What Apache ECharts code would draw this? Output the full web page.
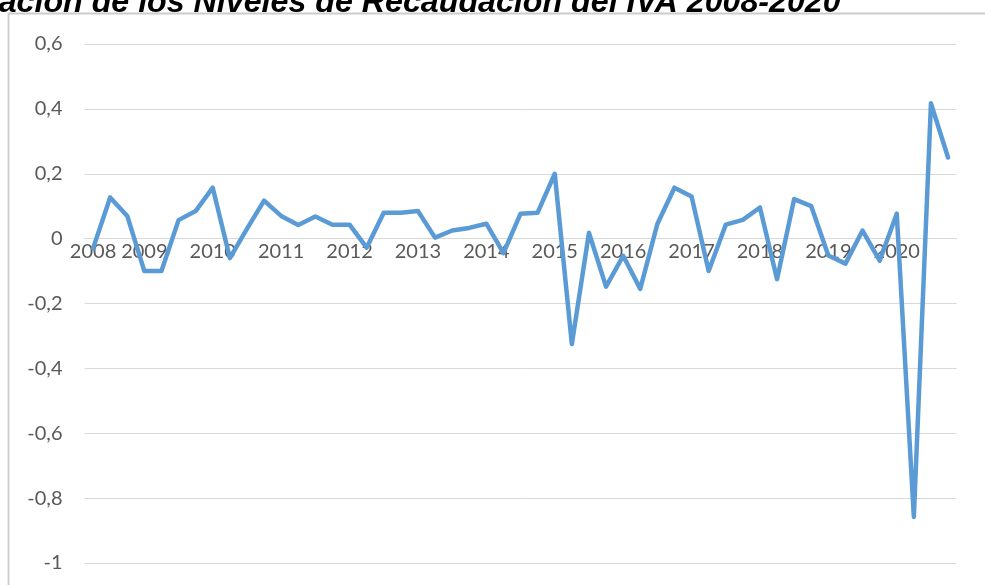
<!DOCTYPE html>
<html>
<head>
<meta charset="utf-8">
<script src="https://cdn.jsdelivr.net/npm/echarts@6/dist/echarts.min.js"></script>
<style>
html,body{margin:0;padding:0;background:#fff;}
#chart{width:985px;height:585px;}
</style>
</head>
<body>
<div id="chart"></div>
<script>
const titleText = 'Variación de los Niveles de Recaudación del IVA 2008-2020';
const years = [2008,2009,2010,2011,2012,2013,2014,2015,2016,2017,2018,2019,2020];
const quarters = ['T1','T2','T3','T4'];
const categories = [];
years.forEach(y => quarters.forEach(q => categories.push(y + '-' + q)));
categories.length = 51;
const tickLabels = ['2008','2009','2010','2011','2012','2013','2014','2015','2016','2017','2018','2019','2020'];
const tickIndex = [0,3,7,11,15,19,23,27,31,35,39,43,47];
const values = [
  -0.03, 0.127, 0.07, -0.1, -0.1, 0.057, 0.085, 0.157, -0.06, 0.03,
  0.117, 0.07, 0.042, 0.068, 0.043, 0.043, -0.028, 0.08, 0.08, 0.085,
  0.003, 0.025, 0.033, 0.046, -0.045, 0.077, 0.08, 0.2, -0.325, 0.018,
  -0.148, -0.053, -0.155, 0.045, 0.157, 0.13, -0.1, 0.043, 0.058, 0.096,
  -0.125, 0.122, 0.1, -0.052, -0.077, 0.025, -0.068, 0.077, -0.858, 0.417,
  0.25
];
const yTicks = {min: -1, max: 0.6, interval: 0.2};

const gridTop = 44, gridBottom = 22, H = 585;
const plotH = H - gridTop - gridBottom;
const zeroOffset = -plotH * (0 - yTicks.min) / (yTicks.max - yTicks.min);

const chart = echarts.init(document.getElementById('chart'), null, {renderer: 'canvas'});
const labelFont = 'Lato, "Open Sans", sans-serif';
chart.setOption({
  animation: false,
  backgroundColor: '#ffffff',
  graphic: [
    {type: 'rect', shape: {x: 8.5, y: 13.5, width: 1000, height: 600}, style: {fill: 'none', stroke: '#cccccc', lineWidth: 1.8}, z: -1},
    {type: 'text', left: -61, top: -13, style: {text: titleText, font: 'italic bold 32.2px "Liberation Sans", Arial, sans-serif', fill: '#000000'}}
  ],
  grid: {left: 84.5, right: 28.4, top: gridTop, bottom: gridBottom, containLabel: false},
  xAxis: {
    type: 'category',
    data: categories,
    boundaryGap: true,
    offset: zeroOffset,
    axisLine: {onZero: false, lineStyle: {color: '#d9d9d9', width: 1}},
    axisTick: {show: false},
    splitLine: {show: false},
    axisLabel: {
      interval: function (i) { return tickIndex.indexOf(i) >= 0; },
      formatter: function (v, i) { const k = tickIndex.indexOf(i); return k >= 0 ? tickLabels[k] : ''; },
      color: '#595959', fontSize: 20, fontFamily: labelFont, margin: 3, hideOverlap: false
    }
  },
  yAxis: {
    type: 'value',
    min: yTicks.min, max: yTicks.max, interval: yTicks.interval,
    axisLine: {show: false},
    axisTick: {show: false},
    splitLine: {lineStyle: {color: '#d9d9d9', width: 1}},
    axisLabel: {
      formatter: function (v) { const r = Math.round(v * 10) / 10; return String(r).replace('.', ','); },
      color: '#595959', fontSize: 20, fontFamily: labelFont, margin: 22
    }
  },
  series: [{
    type: 'line',
    data: values,
    showSymbol: false,
    symbol: 'none',
    smooth: false,
    z: 3,
    lineStyle: {color: '#5b9bd5', width: 4.5, cap: 'round', join: 'round'},
    itemStyle: {color: '#5b9bd5'}
  }]
});
</script>
</body>
</html>
